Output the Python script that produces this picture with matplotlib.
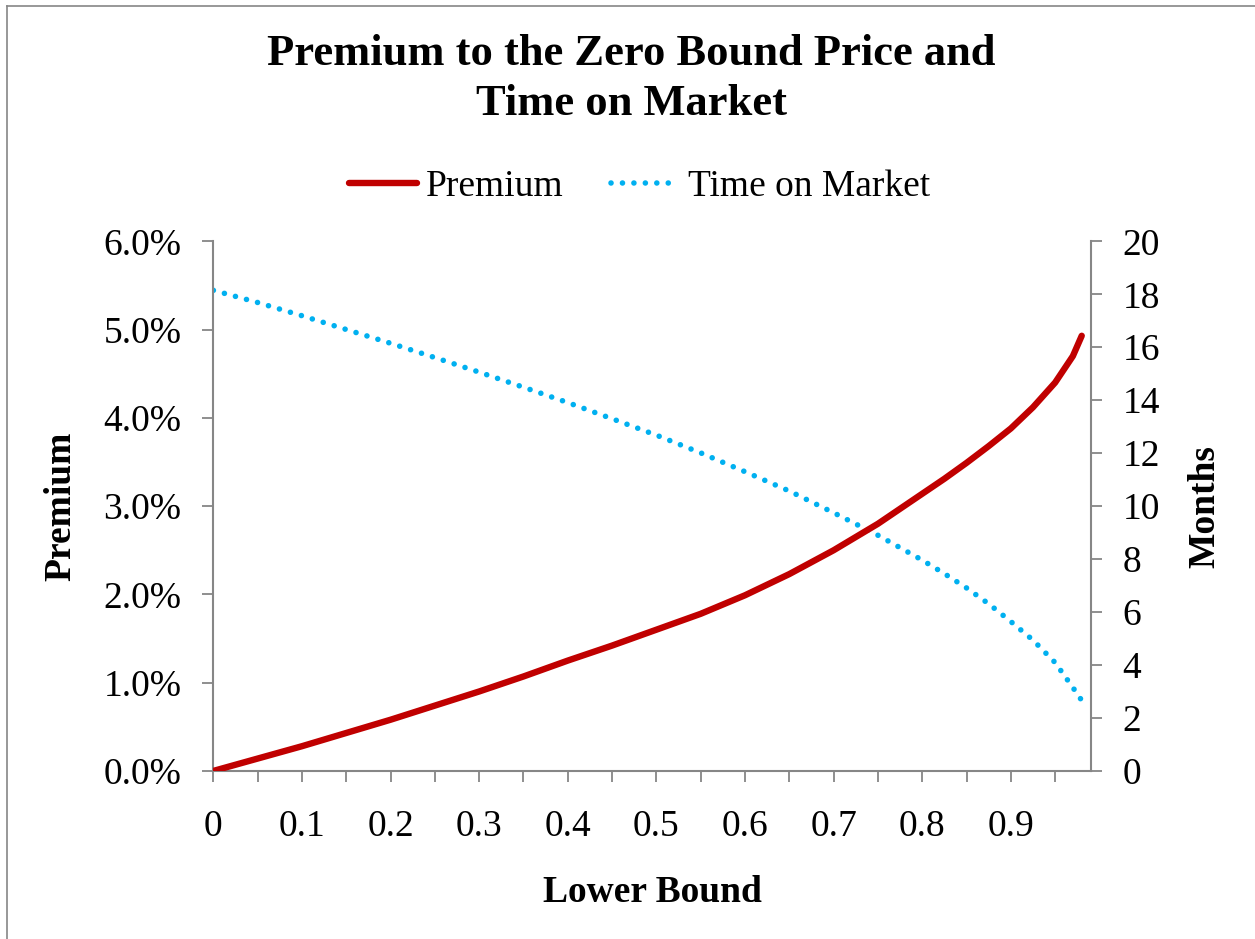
import matplotlib
matplotlib.use('Agg')
import matplotlib.pyplot as plt
from matplotlib.lines import Line2D
from matplotlib.ticker import FuncFormatter, MultipleLocator

# lower bound values (share of the zero-bound price)
lower_bound = [0.00, 0.05, 0.10, 0.15, 0.20, 0.25, 0.30, 0.35, 0.40, 0.45,
               0.50, 0.55, 0.60, 0.65, 0.70, 0.75, 0.80, 0.825, 0.85, 0.875,
               0.90, 0.925, 0.95, 0.97, 0.98]
# premium to the zero bound price (fraction)
premium = [0.0000, 0.0014, 0.0028, 0.0043, 0.0058, 0.0074, 0.0090, 0.0107,
           0.0125, 0.0142, 0.0160, 0.0178, 0.0199, 0.0223, 0.0250, 0.0280,
           0.0314, 0.0331, 0.0349, 0.0368, 0.0388, 0.0412, 0.0440, 0.0470,
           0.0493]
# expected time on market (months)
months = [18.15, 17.69, 17.19, 16.67, 16.15, 15.61, 15.06, 14.49, 13.91,
          13.30, 12.68, 12.01, 11.30, 10.57, 9.75, 8.90, 7.96, 7.45, 6.91,
          6.31, 5.64, 4.94, 4.09, 3.15, 2.66]

x_labels = ['0', '0.1', '0.2', '0.3', '0.4', '0.5', '0.6', '0.7', '0.8', '0.9']

RED = '#C00000'
BLUE = '#00B0F0'
GRAY = '#868686'

plt.rcParams.update({
    'font.family': ['Liberation Serif', 'DejaVu Serif'],
    'font.size': 27,
})

fig = plt.figure(figsize=(12.55, 9.39), dpi=100)
ax = fig.add_axes([0.170, 0.179, 0.699, 0.564])
ax2 = ax.twinx()

ax.plot(lower_bound, premium, color=RED, lw=4.6, solid_capstyle='round',
        solid_joinstyle='round', zorder=3)
ax2.plot(lower_bound, months, color=BLUE, lw=4.0,
         linestyle=(0, (0.01, 2.05)), dash_capstyle='round')
ax.set_zorder(ax2.get_zorder() + 1)
ax.patch.set_visible(False)

# left axis: premium
ax.set_xlim(0, 0.99)
ax.set_ylim(0, 0.06)
ax.yaxis.set_major_locator(MultipleLocator(0.01))
ax.yaxis.set_major_formatter(FuncFormatter(lambda v, _: f'{v * 100:.1f}%'))
ax.xaxis.set_major_locator(MultipleLocator(0.05))
ax.xaxis.set_major_formatter(
    FuncFormatter(lambda v, _: x_labels[int(round(v * 10))]
                  if abs(v * 10 - round(v * 10)) < 1e-6 and round(v * 10) < 10
                  else ''))

# right axis: months
ax2.set_ylim(0, 20)
ax2.yaxis.set_major_locator(MultipleLocator(2))

for a in (ax, ax2):
    for s in a.spines.values():
        s.set_visible(False)
    a.tick_params(direction='out', color=GRAY, width=1.3, length=8)
ax.spines['left'].set_visible(True)
ax.spines['bottom'].set_visible(True)
ax2.spines['right'].set_visible(True)
for s in (ax.spines['left'], ax.spines['bottom'], ax2.spines['right']):
    s.set_color(GRAY)
    s.set_linewidth(1.5)
ax.tick_params(axis='y', pad=15)
ax.tick_params(axis='x', pad=20)
ax2.tick_params(axis='y', pad=15)

ax.set_xlabel('Lower Bound', fontweight='bold', labelpad=22)
ax.set_ylabel('Premium', fontweight='bold', labelpad=18)
ax2.set_ylabel('Months', fontweight='bold', labelpad=20)

fig.text(0.503, 0.916, 'Premium to the Zero Bound Price and\nTime on Market',
         ha='center', va='center', fontsize=32, fontweight='bold',
         linespacing=1.3)

handles = [Line2D([], [], color=RED, lw=4.6, solid_capstyle='round'),
           Line2D([], [], color=BLUE, lw=4.0, linestyle=(0, (0.01, 2.05)),
                  dash_capstyle='round')]
fig.legend(handles, ['Premium', 'Time on Market'], ncol=2, frameon=False,
           loc='center', bbox_to_anchor=(0.5096, 0.801), handlelength=1.8,
           handletextpad=0.25, columnspacing=1.25, fontsize=27)

# chart border
fig.add_artist(Line2D([0.0058, 0.0058], [0.0, 0.9935], color=GRAY, lw=1.2,
                      transform=fig.transFigure))
fig.add_artist(Line2D([0.0058, 1.0], [0.9935, 0.9935], color=GRAY, lw=1.2,
                      transform=fig.transFigure))

fig.savefig('out.png', dpi=100)
